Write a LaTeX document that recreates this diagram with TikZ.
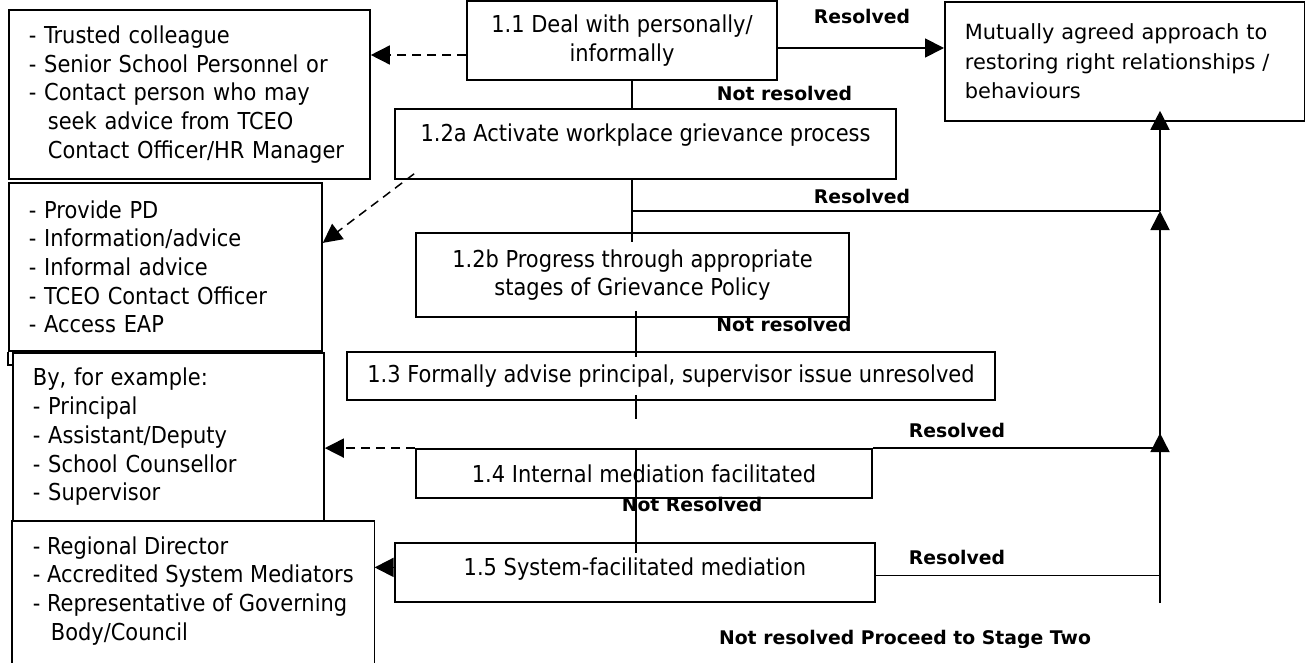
\documentclass[tikz,border=0pt]{standalone}
\usepackage{fontspec}
\setmainfont{DejaVu Sans}
\newfontfamily\condfont{DejaVu Sans Condensed}
\usetikzlibrary{arrows.meta}
\newcommand{\boxfont}{\condfont\fontsize{23.3}{28.7}\selectfont}
\newcommand{\goalfont}{\fontsize{20.9}{29.5}\selectfont}
\newcommand{\lblfont}{\bfseries\fontsize{18.8}{22}\selectfont}
\tikzset{
  stepbox/.style={draw, line width=1.8pt, font=\boxfont, align=center, inner sep=0pt},
  listbox/.style={draw, line width=1.8pt, font=\boxfont, align=left, anchor=north west, inner xsep=20pt, inner ysep=0pt},
  boxline/.style={line width=1.8pt},
  lbl/.style={font=\lblfont},
  link/.style={line width=1.8pt},
  arrow/.style={line width=1.8pt, -{Triangle[length=19pt,width=19pt]}},
  dasharrow/.style={line width=1.5pt, dash pattern=on 9pt off 6pt, -{Triangle[length=19pt,width=19pt]}}
}
\begin{document}
\begin{tikzpicture}[x=1pt,y=-1pt]
  \useasboundingbox (0,0) rectangle (1305,663);
  % steps down the middle
  \node[stepbox, minimum width=310, minimum height=79] (deal) at (622,40.5) {1.1 Deal with personally/\\informally};
  \node[stepbox, anchor=north, minimum width=501, text height=33pt, text depth=37pt] (activate) at (645.5,108) {1.2a Activate workplace grievance process};
  \node[stepbox, minimum width=433, minimum height=84] (progress) at (632.5,275) {1.2b Progress through appropriate\\stages of Grievance Policy};
  \node[stepbox, minimum width=648, minimum height=48] (advise) at (671,376) {1.3 Formally advise principal, supervisor issue unresolved};
  \node[stepbox, minimum width=456, minimum height=49] (internal) at (644,473.5) {1.4 Internal mediation facilitated};
  \node[stepbox, anchor=north, minimum width=480, text height=33pt, text depth=26pt] (system) at (635,542) {1.5 System-facilitated mediation};
  \node[listbox, text width=320, minimum height=119, font=\goalfont] (goal) at (944,1) {Mutually agreed approach to\\restoring right relationships /\\behaviours};
  % who can help
  \node[listbox, text width=321, minimum height=169] (trusted) at (8,9) {- Trusted colleague\\- Senior School Personnel or\\- Contact person who may\\\hspace*{19pt}seek advice from TCEO\\\hspace*{19pt}Contact Officer/HR Manager};
  \node[listbox, text width=273, minimum height=168] (advice) at (8,182) {- Provide PD\\- Information/advice\\- Informal advice\\- TCEO Contact Officer\\- Access EAP};
  \draw[boxline] (advice.south west) -- ++(0,13) -- ++(20,0);
  \node[listbox, fill=white, text width=271, minimum height=168] (byexample) at (12,352) {By, for example:\\- Principal\\- Assistant/Deputy\\- School Counsellor\\- Supervisor};
  \node[listbox, draw=none, minimum width=359, minimum height=138] (bodies) at (12,521) {- Regional Director\\- Accredited System Mediators\\- Representative of Governing\\\hspace*{18pt}Body/Council};
  \draw[boxline] ([yshift=-20pt]bodies.south west) |- (bodies.north east) -- ([yshift=-20pt]bodies.south east);
  % connectors
  \coordinate (spine) at (632,0);
  \coordinate (spinelow) at (636,0);
  \coordinate (rail) at (1160,603);
  \coordinate (resB) at (632,211);
  \coordinate (dealleft) at ([yshift=-14.5pt]deal.west);
  \coordinate (dealright) at ([yshift=-7.5pt]deal.east);
  \coordinate (sysleft) at ([yshift=5pt]system.west);
  \coordinate (sysright) at ([yshift=-3pt]system.east);
  \draw[dasharrow] (dealleft) -- (dealleft -| trusted.east);
  \draw[arrow] (dealright) -- (dealright -| goal.west);
  \node[lbl] (resolvedA) at (862,16) {Resolved};
  \draw[link] (spine |- deal.south) -- (spine |- activate.north);
  \node[lbl] (notresA) at (784.5,93) {Not resolved};
  \draw[link] (spine |- activate.south) -- ([yshift=-10pt]spine |- progress.north);
  \draw[link] (resB) -- (resB -| rail);
  \node[lbl] (resolvedB) at (862,196) {Resolved};
  \draw[dasharrow] ([xshift=20pt,yshift=6pt]activate.south west) -- ([yshift=24pt]advice.east);
  \draw[link] ([yshift=7pt]spinelow |- progress.south) -- ([yshift=-6pt]spinelow |- advise.north);
  \node[lbl] (notresB) at (784,324) {Not resolved};
  \draw[link] ([yshift=6pt]spinelow |- advise.south) -- ++(0,24);
  \draw[link] (spinelow |- internal.north) -- ([yshift=-11pt]spinelow |- system.north);
  \node[lbl] (notresC) at (692,504) {Not Resolved};
  \draw[dasharrow] (internal.north west) -- (internal.north west -| byexample.east);
  \draw[link] (internal.north east) -- (internal.north east -| rail);
  \node[lbl] (resolvedC) at (957,430) {Resolved};
  \draw[arrow] (sysleft) -- (sysleft -| bodies.east);
  \draw[link] (sysright) -- (sysright -| rail);
  \node[lbl] (resolvedD) at (957,557) {Resolved};
  \draw[arrow] (rail) -- ([yshift=15pt]rail |- internal.north);
  \draw[arrow] (rail |- internal.north) -- (rail |- resB);
  \draw[arrow] (rail |- resB) -- ([yshift=11pt]rail |- goal.south);
  \node[lbl] (proceed) at (905,639) {Not resolved Proceed to Stage Two};
\end{tikzpicture}
\end{document}
